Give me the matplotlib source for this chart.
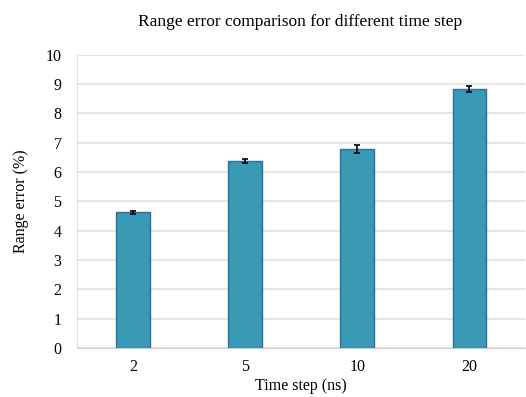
import numpy as np
import matplotlib
matplotlib.use('Agg')
import matplotlib.pyplot as plt

# Data
time_steps = ['2', '5', '10', '20']
range_error = [4.63, 6.38, 6.78, 8.83]
error_bar = [0.04, 0.08, 0.13, 0.10]

plt.rcParams['font.family'] = ['Liberation Serif', 'DejaVu Serif']

fig = plt.figure(figsize=(5.26, 3.97), dpi=100)
ax = fig.add_axes([0.146, 0.123, 0.853, 0.739])

x = np.arange(len(time_steps))
ax.bar(x, range_error, width=0.3, color='#3799b4', edgecolor='#2f6d9a',
       linewidth=1.0, zorder=3,
       yerr=error_bar, capsize=2.5,
       error_kw=dict(ecolor='black', elinewidth=1.2, capthick=1.2, zorder=4))

ax.set_xlim(-0.5, len(time_steps) - 0.5)
ax.set_ylim(0, 10)
ax.set_yticks(range(0, 11))
ax.set_xticks(x)
ax.set_xticklabels(time_steps)
ax.tick_params(axis='both', length=0, labelsize=11.5, pad=8)
ax.tick_params(axis='y', pad=11)

ax.grid(axis='y', color='#e0e0e0', linewidth=1.2, zorder=0)
for side in ['top', 'right']:
    ax.spines[side].set_visible(False)
ax.spines['left'].set_color('#e0e0e0')
ax.spines['bottom'].set_color('#d0d0d0')

ax.set_xlabel('Time step (ns)', fontsize=11.5, labelpad=2)
ax.set_ylabel('Range error (%)', fontsize=11.5, labelpad=12)
fig.text(0.57, 0.945, 'Range error comparison for different time step',
         ha='center', va='center', fontsize=12.5)

fig.savefig('out.png', dpi=100, facecolor='white')
